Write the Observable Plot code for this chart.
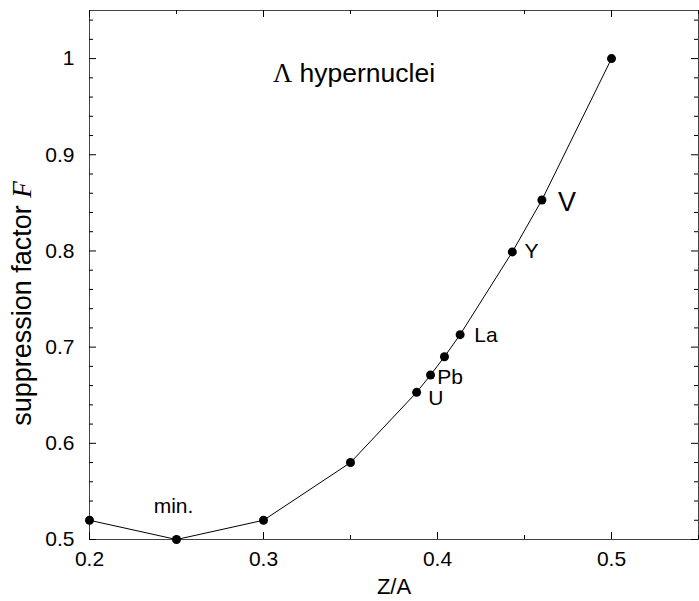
<!DOCTYPE html>
<html><head><meta charset="utf-8">
<script src="https://cdn.jsdelivr.net/npm/d3@7"></script>
<script src="https://cdn.jsdelivr.net/npm/@observablehq/plot@0.6"></script>
<style>body{margin:0;background:#fff}</style>
</head><body><div id="chart"></div>
<script>
// data
const za = [0.2, 0.25, 0.3, 0.35, 0.388, 0.396, 0.404, 0.413, 0.443, 0.460, 0.5];
const F  = [0.52, 0.50, 0.52, 0.58, 0.653, 0.671, 0.690, 0.713, 0.799, 0.853, 1.0];
const nucleusLabels = ["U", "Pb", "La", "Y"];
const nucleusLabelX = [0.399, 0.4072, 0.4279, 0.454];
const nucleusLabelY = [0.647, 0.6683, 0.7124, 0.7992];
const bigLabel = ["V"];
const bigLabelX = [0.4744];
const bigLabelY = [0.8506];
const minLabel = ["min."];
const minLabelX = [0.2483];
const minLabelY = [0.5348];
const titleText = ["Λ hypernuclei"];
const titleX = [0.352];
const titleY = [0.985];
const xTicks = [0.2, 0.3, 0.4, 0.5];
const xMinor = [0.25, 0.35, 0.45, 0.55];
const yTicks = [0.5, 0.6, 0.7, 0.8, 0.9, 1.0];
const yMinor = [0.52, 0.54, 0.56, 0.58, 0.62, 0.64, 0.66, 0.68, 0.72, 0.74, 0.76, 0.78,
                0.82, 0.84, 0.86, 0.88, 0.92, 0.94, 0.96, 0.98, 1.02, 1.04];
const xLabel = ["Z/A"];
const yLabel = ["suppression factor F"];

const points = za.map((x, i) => ({x, y: F[i]}));
const labs = nucleusLabels.map((t, i) => ({t, x: nucleusLabelX[i], y: nucleusLabelY[i]}));

const W = 699, H = 601, mT = 10, mB = 62, mL = 89, mR = 1;
const plotH = H - mT - mB, plotW = W - mL - mR;
const font = "'Liberation Sans', Arial, Helvetica, sans-serif";
const MAJ = 7, MIN = 4;

const svg = Plot.plot({
  width: W, height: H,
  marginTop: mT, marginBottom: mB, marginLeft: mL, marginRight: mR,
  style: {fontFamily: font, background: "#fff", color: "#000"},
  x: {domain: [0.2, 0.55], label: null},
  y: {domain: [0.5, 1.05], label: null},
  marks: [
    Plot.frame({stroke: "#444"}),
    // inward ticks: bottom & top
    Plot.tickX(xTicks, {x: d => d, insetTop: plotH - MAJ, stroke: "#000"}),
    Plot.tickX(xTicks, {x: d => d, insetBottom: plotH - MAJ, stroke: "#000"}),
    Plot.tickX(xMinor, {x: d => d, insetTop: plotH - MIN, stroke: "#000"}),
    Plot.tickX(xMinor, {x: d => d, insetBottom: plotH - MIN, stroke: "#000"}),
    // inward ticks: left & right
    Plot.tickY(yTicks, {y: d => d, insetRight: plotW - MAJ, stroke: "#000"}),
    Plot.tickY(yTicks, {y: d => d, insetLeft: plotW - MAJ, stroke: "#000"}),
    Plot.tickY(yMinor, {y: d => d, insetRight: plotW - MIN, stroke: "#000"}),
    Plot.tickY(yMinor, {y: d => d, insetLeft: plotW - MIN, stroke: "#000"}),
    Plot.axisX(xTicks, {tickSize: 0, tickPadding: 12, fontSize: 21, tickFormat: d => String(d), label: null}),
    Plot.axisY(yTicks, {tickSize: 0, tickPadding: 15, fontSize: 21, tickFormat: d => String(d), label: null}),
    Plot.line(points, {x: "x", y: "y", stroke: "#000", strokeWidth: 1}),
    Plot.dot(points, {x: "x", y: "y", r: 4.5, fill: "#000", stroke: null}),
    Plot.text(labs, {x: "x", y: "y", text: "t", fontSize: 21, fill: "#000"}),
    Plot.text(bigLabel, {x: () => bigLabelX[0], y: () => bigLabelY[0], text: d => d, fontSize: 27, fill: "#000"}),
    Plot.text(minLabel, {x: () => minLabelX[0], y: () => minLabelY[0], text: d => d, fontSize: 21, fill: "#000"}),
    Plot.text(titleText, {x: () => titleX[0], y: () => titleY[0], text: d => d, fontSize: 26.5, fill: "#000"}),
    Plot.text(xLabel, {frameAnchor: "bottom", lineAnchor: "middle", text: d => d, dy: 47, fontSize: 22, fill: "#000"}),
    Plot.text(yLabel, {frameAnchor: "left", textAnchor: "middle", lineAnchor: "middle", text: d => d, rotate: -90, dx: -67, dy: 28.5, fontSize: 27, fill: "#000"})
  ]
});

// styled fragments: italic serif F, serif Lambda
d3.select(svg).selectAll("text").each(function() {
  const t = this.textContent;
  if (t === "suppression factor F") {
    const s = d3.select(this);
    s.text("suppression factor ");
    s.append("tspan").attr("font-family", "'Liberation Serif', 'Times New Roman', serif").attr("font-style", "italic").text("F");
  } else if (t === "Λ hypernuclei") {
    const s = d3.select(this);
    s.text(null);
    s.append("tspan").attr("font-family", "'Liberation Serif', 'Times New Roman', serif").text("Λ");
    s.append("tspan").text(" hypernuclei");
  }
});

document.getElementById("chart").appendChild(svg);
</script>
</body></html>
